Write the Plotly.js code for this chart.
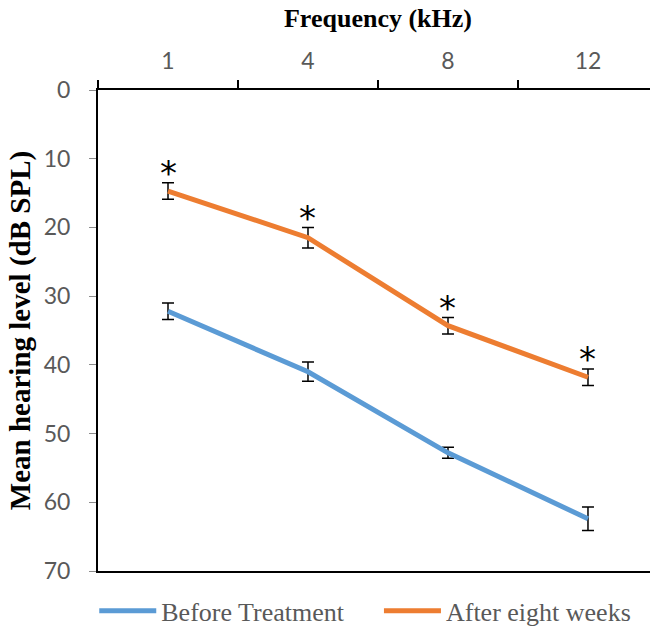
<!DOCTYPE html>
<html>
<head>
<meta charset="utf-8">
<script src="https://cdn.plot.ly/plotly-3.0.1.min.js"></script>
<style>html,body{margin:0;padding:0;background:#fff;}#chart{width:650px;height:630px;}</style>
</head>
<body>
<div id="chart"></div>
<script>
var frequencies = ["1", "4", "8", "12"];
var beforeTreatment = [32.2, 41.0, 52.8, 62.4];
var beforeError = [1.2, 1.4, 0.8, 1.7];
var afterEightWeeks = [14.7, 21.5, 34.3, 41.8];
var afterError = [1.2, 1.5, 1.2, 1.2];
var significant = ["*", "*", "*", "*"];

var traces = [
  {
    x: frequencies, y: beforeTreatment, name: "Before Treatment", type: "scatter", mode: "lines",
    line: {color: "#5B9BD5", width: 5}, legend: "legend",
    error_y: {type: "data", array: beforeError, visible: true, color: "#000000", thickness: 1.5, width: 6}
  },
  {
    x: frequencies, y: afterEightWeeks, name: "After eight weeks", type: "scatter", mode: "lines",
    line: {color: "#ED7D31", width: 5}, legend: "legend2",
    error_y: {type: "data", array: afterError, visible: true, color: "#000000", thickness: 1.5, width: 6}
  }
];

var annotations = frequencies.map(function (f, i) {
  return {
    x: i, y: afterEightWeeks[i] - afterError[i], xref: "x", yref: "y",
    text: significant[i], showarrow: false, yanchor: "middle", yshift: 9.5,
    font: {family: "DejaVu Sans", size: 34, color: "#000000"}
  };
});

var legendFont = {family: "Liberation Serif", size: 26, color: "#595959"};

var layout = {
  width: 650, height: 630,
  margin: {l: 98, r: 0, t: 90, b: 59},
  paper_bgcolor: "#ffffff", plot_bgcolor: "#ffffff",
  showlegend: true,
  title: {
    text: "<b>Frequency (kHz)</b>", x: 0.5815, xanchor: "center", y: 0.972, yanchor: "middle",
    font: {family: "Liberation Serif", size: 26, color: "#000000"}
  },
  xaxis: {
    type: "category", side: "top", range: [-0.5, 3.443],
    showline: true, linecolor: "#000000", linewidth: 2, mirror: true,
    ticks: "outside", tickson: "boundaries", ticklen: 8, tickwidth: 2, tickcolor: "#000000",
    showgrid: false, zeroline: false, ticklabelstandoff: 10,
    tickfont: {family: "Lato", size: 23, color: "#595959"}
  },
  yaxis: {
    autorange: false, range: [70, 0], dtick: 10, tick0: 0,
    showline: true, linecolor: "#000000", linewidth: 2,
    ticks: "outside", ticklen: 7, tickwidth: 1, tickcolor: "#8c8c8c",
    showgrid: false, zeroline: false, ticklabelstandoff: 14,
    tickfont: {family: "Lato", size: 23, color: "#595959"},
    title: {text: "<b>Mean hearing level (dB SPL)</b>", standoff: 5,
      font: {family: "Liberation Serif", size: 29, color: "#000000"}}
  },
  legend: {
    orientation: "h", xref: "container", yref: "container",
    x: 0.145, xanchor: "left", y: 0.0302, yanchor: "middle",
    font: legendFont, bgcolor: "rgba(0,0,0,0)", itemwidth: 57
  },
  legend2: {
    orientation: "h", xref: "container", yref: "container",
    x: 0.583, xanchor: "left", y: 0.0302, yanchor: "middle",
    font: legendFont, bgcolor: "rgba(0,0,0,0)", itemwidth: 57
  },
  annotations: annotations
};

Plotly.newPlot("chart", traces, layout, {displayModeBar: false, staticPlot: true});
</script>
</body>
</html>
